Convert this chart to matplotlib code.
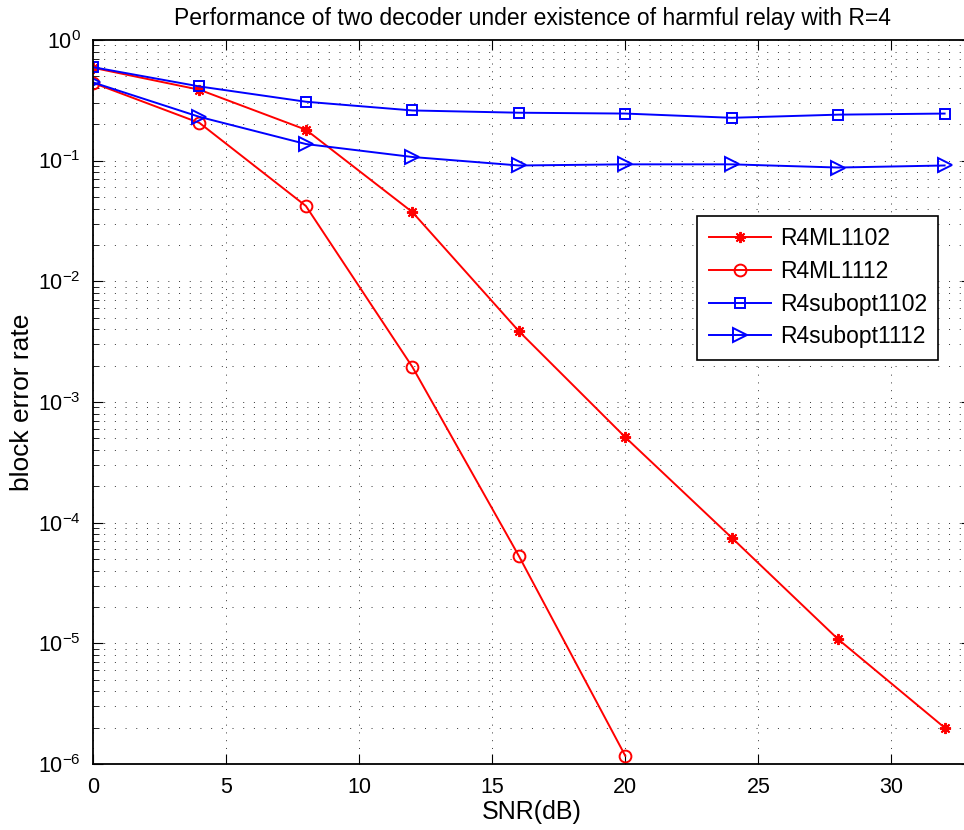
import matplotlib.pyplot as plt
from matplotlib.ticker import LogLocator, NullFormatter

plt.rcParams['font.family'] = ['Liberation Sans', 'DejaVu Sans']
plt.rcParams['mathtext.fontset'] = 'custom'
plt.rcParams['mathtext.rm'] = 'Liberation Sans'
plt.rcParams['mathtext.it'] = 'Liberation Sans:italic'

snr = [0, 4, 8, 12, 16, 20, 24, 28, 32]
ml1102 = [0.587, 0.386, 0.180, 0.0374, 0.00386, 5.1e-4, 7.5e-5, 1.08e-5, 2.0e-6]
snr_ml1112 = [0, 4, 8, 12, 16, 20]
ml1112 = [0.44, 0.205, 0.042, 0.00195, 5.3e-5, 1.17e-6]
sub1102 = [0.594, 0.411, 0.307, 0.26, 0.249, 0.245, 0.226, 0.24, 0.245]
sub1112 = [0.444, 0.23, 0.137, 0.107, 0.091, 0.093, 0.093, 0.0875, 0.091]

fig = plt.figure(figsize=(9.64, 8.30), dpi=100)
# axes run a little past the right edge, like the cropped original
ax = fig.add_axes([0.0965, 0.0795, 0.911, 0.8725])

ax.semilogy(snr, ml1102, color='red', lw=1.4, marker=(8, 2, 0), ms=8, mew=1.4, label='R4ML1102')
ax.semilogy(snr_ml1112, ml1112, color='red', lw=1.4, marker='o', ms=8.5, mfc='none', mew=1.4, label='R4ML1112')
ax.semilogy(snr, sub1102, color='blue', lw=1.4, marker='s', ms=7.5, mfc='none', mew=1.4, label='R4subopt1102')
ax.semilogy(snr, sub1112, color='blue', lw=1.4, marker='>', ms=9.5, mfc='none', mew=1.4, label='R4subopt1112')

ax.set_xlim(0, 33)
ax.set_ylim(1e-6, 1)
ax.set_xticks([0, 5, 10, 15, 20, 25, 30])
ax.set_yticks([1e-6, 1e-5, 1e-4, 1e-3, 1e-2, 1e-1, 1])
ax.yaxis.set_minor_locator(LogLocator(base=10, subs=range(2, 10), numticks=100))
ax.yaxis.set_minor_formatter(NullFormatter())
ax.set_ylim(1e-6, 1)

ax.grid(True, which='major', axis='x', linestyle=(0, (1, 7)), color='0.2', lw=0.7)
ax.grid(True, which='both', axis='y', linestyle=(0, (1, 10)), color='0.2', lw=0.7)
ax.tick_params(which='both', direction='in', top=True, right=True)
ax.tick_params(axis='x', which='major', length=7, pad=9, labelsize=15.5)
ax.tick_params(axis='y', which='major', length=7, pad=9, labelsize=15.5)
ax.tick_params(which='minor', length=4)
for s in ax.spines.values():
    s.set_linewidth(1.3)

ax.set_xlabel('SNR(dB)', fontsize=18)
ax.xaxis.set_label_coords(0.5, -0.05)
ax.set_ylabel('block error rate', fontsize=19)
ax.yaxis.set_label_coords(-0.067, 0.5)
ax.set_title('Performance of two decoder under existence of harmful relay with R=4',
             fontsize=16.5, pad=11)

leg = ax.legend(loc='upper left', bbox_to_anchor=(0.688, 0.757), borderaxespad=0,
                fontsize=16.5, fancybox=False, edgecolor='black', framealpha=1,
                handlelength=2.7, handletextpad=0.4, borderpad=0.5, labelspacing=0.42)
leg.get_frame().set_linewidth(1.2)

fig.savefig('out.png', dpi=100)
